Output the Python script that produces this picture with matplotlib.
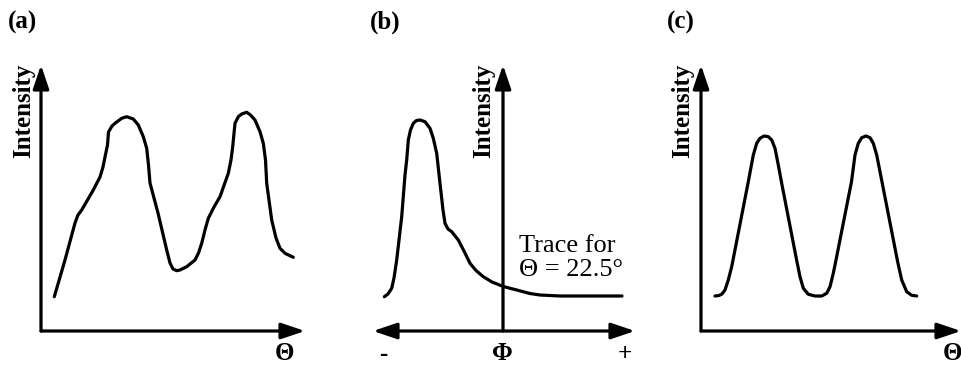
"""
Three schematic intensity traces: (a) raw trace over Theta, (b) a single
trace over Phi for Theta = 22.5 deg, (c) idealised double-peak trace.
"""

import matplotlib
matplotlib.use("Agg")
import matplotlib.pyplot as plt

W, H = 962, 365

# --- Data (arbitrary units) ---
# panel (a): intensity vs theta
a_theta = [13.3, 24, 34, 37, 40.7, 52.3, 59, 62, 64, 66.5, 67.5, 71, 74, 80.7, 85.7,
           92.3, 97.3, 102.3, 105.7, 107.5, 109, 117, 125.7, 129, 132, 135.7, 139, 145.7,
           154, 157.5, 160.7, 164, 167.3, 173, 179, 187.3, 190, 191.7, 194, 197.3, 200.7,
           205.7, 209.5, 214, 219, 222.3, 224.5, 225.7, 230.7, 235, 239, 244, 252.3]
a_int = [34.3, 71, 108, 116, 121, 141, 154, 164, 174, 186, 199, 205, 207.7, 212.7, 214.3,
         212, 206, 194.3, 182.7, 166, 148, 118, 81, 68, 62, 60.3, 61, 64.3,
         71, 78, 87.7, 101, 112.7, 124, 134.3, 157.7, 171, 184.3, 207.7, 214.3, 217,
         218.7, 216, 211, 199.3, 187.7, 171, 147.7, 111, 93, 82.7, 77.7, 73.7]

# panel (b): intensity vs phi (trace for theta = 22.5 deg)
b_phi = [-118.7, -115, -111.3, -109, -106.3, -101.3, -98, -96.3, -94.7, -92.5, -89.7,
         -86.5, -83, -78, -73, -69.7, -66.3, -63, -60, -58, -55, -51.3, -44.7, -39, -33,
         -27, -19.7, -11, 0.3, 13.7, 27, 37, 57, 119]
b_int = [34.3, 37, 42.7, 53, 71, 114.3, 156, 171, 191, 201, 207.7,
         210.5, 211, 209.3, 202.7, 192.7, 177.7, 147.7, 121, 107.7, 102, 99.3, 91, 80, 67.7,
         60.5, 54.3, 49, 44.5, 41, 37.5, 36, 35, 35]

# panel (c): idealised intensity vs theta
c_theta = [14, 18, 21, 24, 27.3, 30.7, 47.3, 52.3, 55.7, 59, 63, 67.3, 70.7, 74, 77.3,
           80.7, 96, 99, 102.3, 107.3, 114, 120.7, 125.7, 129, 132.3, 135, 150.5, 154,
           157.3, 160.7, 165, 169, 172.3, 175.7, 179, 196.7, 200.7, 205.7, 210.7, 215.7]
c_int = [35, 35.5, 37, 41, 51, 64.3, 149.3, 176, 187.7, 192.7, 195, 194.3, 191, 182.7, 166,
         147.7, 69, 54.3, 42.7, 36.7, 35, 35, 37.7, 44.3, 57.7, 71, 149.3, 176,
         187.7, 193.3, 195, 193.3, 187.7, 176, 159.3, 69, 51, 39.3, 35.7, 35]

INK = "black"
LW = 2.3
SERIF = "Liberation Serif"


def fx(x):
    return x / W


def fy(y):
    return 1 - y / H


def make_axes(fig, x0, x1, y_top, y_bot, xlim, ylim):
    ax = fig.add_axes([fx(x0), fy(y_bot), (x1 - x0) / W, (y_bot - y_top) / H])
    ax.set_xlim(*xlim)
    ax.set_ylim(*ylim)
    ax.axis("off")
    return ax


def arrow(ax, start, end, style="-|>"):
    ax.annotate("", xy=end, xytext=start, xycoords="data",
                arrowprops=dict(arrowstyle=f"{style},head_length=0.8,head_width=0.27",
                                lw=LW, color=INK, shrinkA=0, shrinkB=0,
                                mutation_scale=18),
                annotation_clip=False)


def trace(ax, x, y):
    ax.plot(x, y, color=INK, lw=LW, solid_joinstyle="round",
            solid_capstyle="round", clip_on=False)


def label(fig, x, y, s, size=18, weight="bold", rot=0, ha="center"):
    fig.text(fx(x), fy(y), s, fontsize=size, fontweight=weight, family=SERIF,
             rotation=rot, ha=ha, va="center", color=INK)


fig = plt.figure(figsize=(W / 100, H / 100), dpi=100)

# (a)
ax = make_axes(fig, 41, 305, 65, 331, (0, 264), (0, 266))
arrow(ax, (0, 0), (264, 0))
arrow(ax, (0, 0), (0, 266))
trace(ax, a_theta, a_int)

# (b)
ax = make_axes(fig, 373, 635, 65, 331, (-130, 132), (0, 266))
arrow(ax, (-130, 0), (132, 0), style="<|-|>")
arrow(ax, (0, 0), (0, 266))
trace(ax, b_phi, b_int)

# (c)
ax = make_axes(fig, 701, 961, 65, 331, (0, 260), (0, 266))
arrow(ax, (0, 0), (260, 0))
arrow(ax, (0, 0), (0, 266))
trace(ax, c_theta, c_int)

# --- Text ---
label(fig, 8, 22, "(a)", ha="left")
label(fig, 370, 22, "(b)", ha="left")
label(fig, 667, 22, "(c)", ha="left")

label(fig, 24, 111, "Intensity", rot=90)
label(fig, 484, 111, "Intensity", rot=90)
label(fig, 683, 111, "Intensity", rot=90)

label(fig, 284, 353, "\u0398")
label(fig, 953, 353, "\u0398")
label(fig, 502, 354, "\u03a6")
label(fig, 383, 354, "-")
label(fig, 625, 354, "+")

label(fig, 519, 246, "Trace for", size=19, weight="normal", ha="left")
label(fig, 519, 270, "\u0398 = 22.5\u00b0", size=19, weight="normal", ha="left")

fig.savefig("out.png", dpi=100, facecolor="white")
